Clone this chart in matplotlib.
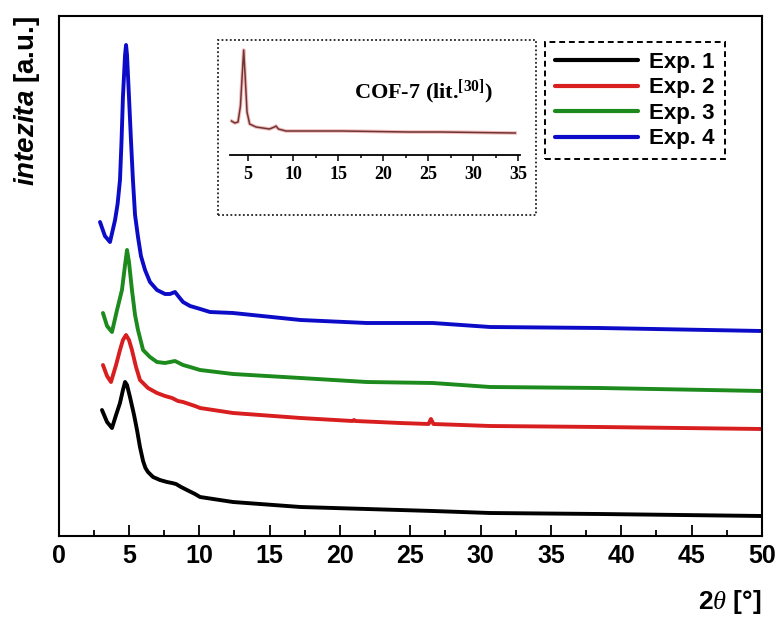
import matplotlib
matplotlib.use('Agg')
import matplotlib.pyplot as plt
from matplotlib.patches import Rectangle
from matplotlib.ticker import MultipleLocator

plt.rcParams['mathtext.fontset'] = 'custom'
plt.rcParams['mathtext.rm'] = 'Liberation Serif:bold'
plt.rcParams['mathtext.bf'] = 'Liberation Serif:bold'
plt.rcParams['mathtext.it'] = 'Liberation Serif:italic'
plt.rcParams['mathtext.sf'] = 'Liberation Sans:italic:bold'
plt.rcParams['font.family'] = ['Liberation Sans', 'DejaVu Sans']

# ---------------- data ----------------
labels = ['Exp. 1', 'Exp. 2', 'Exp. 3', 'Exp. 4']
colors = ['#000000', '#d81e1e', '#1c8a1c', '#0c0cc8']

exp1_x = [3.09, 3.45, 3.80, 4.09, 4.37, 4.58, 4.73, 4.87, 5.08, 5.37, 5.58, 5.79, 6.01, 6.18, 6.36, 6.72,
          7.21, 7.71, 8.07, 8.35, 8.71, 9.13, 9.70, 10.06, 12.4, 17.2, 21.9, 26.6, 30.67, 38.48, 50.0]
exp1_y = [126, 114, 108, 121, 133, 146, 154, 151, 139, 121, 106, 89, 75, 68, 64, 59,
          56, 54, 53, 52, 49, 46, 42, 39, 34, 29, 27, 25, 23, 22, 20]

exp2_x = [3.16, 3.45, 3.73, 4.09, 4.37, 4.58, 4.80, 5.01, 5.22, 5.51, 5.79, 6.36, 7.00, 7.57, 8.07,
          8.49, 8.85, 9.70, 10.06, 12.4, 17.2, 20.9, 21.0, 21.1, 24.27, 26.3, 26.47, 26.65, 30.67, 38.48, 50.0]
exp2_y = [171, 160, 154, 171, 186, 196, 201, 196, 186, 169, 156, 148, 143, 140, 138,
          135, 134, 130, 128, 123, 118, 115, 116, 115, 113, 112, 117, 112, 110, 109, 107]

exp3_x = [3.16, 3.45, 3.80, 4.16, 4.51, 4.73, 4.87, 5.01, 5.22, 5.44, 5.65, 6.01, 6.50, 7.00, 7.57,
          8.28, 8.85, 9.35, 10.06, 12.4, 17.2, 21.9, 26.6, 30.67, 38.48, 50.0]
exp3_y = [223, 210, 204, 226, 246, 271, 286, 274, 246, 221, 206, 186, 179, 174, 173,
          175, 171, 169, 166, 162, 158, 154, 153, 149, 148, 145]

exp4_x = [2.95, 3.3, 3.66, 4.02, 4.2, 4.37, 4.48, 4.58, 4.73, 4.8, 4.87, 5.01, 5.15, 5.29, 5.44, 5.65,
          5.86, 6.15, 6.5, 7.0, 7.57, 7.92, 8.28, 8.56, 8.85, 9.35, 9.84, 10.77, 12.4, 17.2, 21.9,
          26.6, 30.67, 38.48, 50.0]
exp4_y = [314, 300, 294, 316, 332, 356, 395, 439, 481, 491, 481, 439, 396, 356, 321, 299,
          280, 266, 254, 246, 242, 242, 244, 239, 234, 230, 228, 224, 223, 216, 213,
          213, 209, 208, 205]

inset_x = [3.17, 3.53, 3.89, 4.16, 4.33, 4.52, 4.70, 4.89, 5.18, 5.89, 7.38, 7.93, 8.11, 8.37,
           9.21, 11.78, 15.44, 22.78, 26.44, 34.67]
inset_y = [34, 32, 33, 49, 76, 105, 76, 43, 31, 28, 26, 28, 29, 26, 24, 24, 24, 23, 23, 22]

xs = [exp1_x, exp2_x, exp3_x, exp4_x]
ys = [exp1_y, exp2_y, exp3_y, exp4_y]

# ---------------- figure ----------------
W, H = 779, 621
fig = plt.figure(figsize=(W / 100, H / 100), dpi=100)
fig.patch.set_facecolor('white')

ax = fig.add_axes([58.5 / W, 1 - 536 / H, (762 - 58.5) / W, (536 - 16) / H])
for x, y, c, l in zip(xs, ys, colors, labels):
    ax.plot(x, y, color=c, lw=2.8, label=l, solid_joinstyle='round', solid_capstyle='round')

ax.set_xlim(0, 50)
ax.set_ylim(0, 520)
ax.xaxis.set_major_locator(MultipleLocator(5))
ax.xaxis.set_minor_locator(MultipleLocator(2.5))
ax.tick_params(axis='x', which='major', direction='in', length=8, width=1.3, pad=6, labelsize=18)
ax.tick_params(axis='x', which='minor', direction='in', length=4.5, width=1.3)
ax.set_yticks([])
for t in ax.get_xticklabels():
    t.set_fontweight('bold')
for s in ax.spines.values():
    s.set_linewidth(1.5)

ax.set_ylabel(r'$\mathsf{intezita}$ [a.u.]', fontsize=20, fontweight='bold', loc='top', labelpad=12)
ax.set_xlabel(r'2$\mathit{\theta}$ [°]', fontsize=19, fontweight='bold', loc='right', labelpad=14)

# legend
leg = fig.legend(loc='upper left', bbox_to_anchor=(545 / W, 1 - 42 / H), bbox_transform=fig.transFigure,
                 borderaxespad=0, prop={'weight': 'bold', 'size': 16, 'family': 'Liberation Sans'},
                 handlelength=3.75, handletextpad=0.5, labelspacing=0.2, borderpad=0.45,
                 fancybox=False, edgecolor='black', framealpha=1)
leg.get_frame().set_linestyle((0, (3, 2)))
leg.get_frame().set_linewidth(1.4)
for h in leg.legend_handles:
    h.set_linewidth(3)

# inset
iax = fig.add_axes([230 / W, 1 - 155 / H, 290 / W, 110 / H])
iax.patch.set_visible(False)
for k in ['top', 'left', 'right']:
    iax.spines[k].set_visible(False)
iax.spines['bottom'].set_linewidth(1.3)
iax.plot(inset_x, inset_y, color='#f0a0a0', lw=2.6, alpha=0.7)
iax.plot(inset_x, inset_y, color='#6e3535', lw=1.1)
iax.set_xlim(3, 35.2)
iax.set_ylim(0, 110)
iax.set_yticks([])
iax.xaxis.set_major_locator(MultipleLocator(5))
iax.xaxis.set_minor_locator(MultipleLocator(2.5))
iax.tick_params(axis='x', which='major', direction='out', length=4, width=1.1, pad=4, labelsize=13)
iax.tick_params(axis='x', which='minor', direction='out', length=2.5, width=1.1)
for t in iax.get_xticklabels():
    t.set_fontfamily('Liberation Serif')
    t.set_fontweight('bold')

fig.text(423 / W, 1 - 98 / H, r'COF-7 (lit.$^{\mathbf{[30]}}$)', family='Liberation Serif',
         weight='bold', fontsize=16, ha='center', va='baseline')

fig.add_artist(Rectangle((218 / W, 1 - 215 / H), (536 - 218) / W, (215 - 40) / H,
                         transform=fig.transFigure, fill=False, ls=(0, (1, 1.3)), lw=1.3, ec='#222222'))

fig.savefig('out.png', dpi=100)
